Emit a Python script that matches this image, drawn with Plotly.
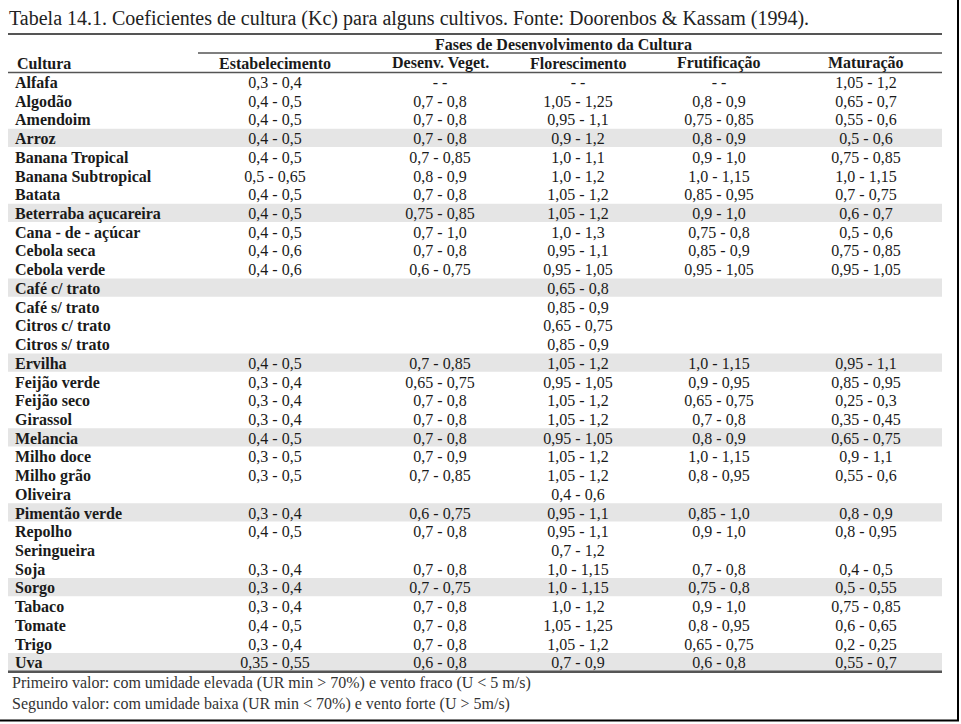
import plotly.graph_objects as go

title = "Tabela 14.1. Coeficientes de cultura (Kc) para alguns cultivos. Fonte: Doorenbos & Kassam (1994)."
group_header = "Fases de Desenvolvimento da Cultura"
col_headers = ["Cultura", "Estabelecimento", "Desenv. Veget.", "Florescimento", "Frutificação", "Maturação"]

cultura = ["Alfafa", "Algodão", "Amendoim", "Arroz", "Banana Tropical", "Banana Subtropical",
           "Batata", "Beterraba açucareira", "Cana - de - açúcar", "Cebola seca", "Cebola verde",
           "Café c/ trato", "Café s/ trato", "Citros c/ trato", "Citros s/ trato", "Ervilha",
           "Feijão verde", "Feijão seco", "Girassol", "Melancia", "Milho doce", "Milho grão",
           "Oliveira", "Pimentão verde", "Repolho", "Seringueira", "Soja", "Sorgo", "Tabaco",
           "Tomate", "Trigo", "Uva"]
estabelecimento = ["0,3 - 0,4", "0,4 - 0,5", "0,4 - 0,5", "0,4 - 0,5", "0,4 - 0,5", "0,5 - 0,65",
                   "0,4 - 0,5", "0,4 - 0,5", "0,4 - 0,5", "0,4 - 0,6", "0,4 - 0,6",
                   "", "", "", "", "0,4 - 0,5",
                   "0,3 - 0,4", "0,3 - 0,4", "0,3 - 0,4", "0,4 - 0,5", "0,3 - 0,5", "0,3 - 0,5",
                   "", "0,3 - 0,4", "0,4 - 0,5", "", "0,3 - 0,4", "0,3 - 0,4", "0,3 - 0,4",
                   "0,4 - 0,5", "0,3 - 0,4", "0,35 - 0,55"]
desenv_veget = ["- -", "0,7 - 0,8", "0,7 - 0,8", "0,7 - 0,8", "0,7 - 0,85", "0,8 - 0,9",
                "0,7 - 0,8", "0,75 - 0,85", "0,7 - 1,0", "0,7 - 0,8", "0,6 - 0,75",
                "", "", "", "", "0,7 - 0,85",
                "0,65 - 0,75", "0,7 - 0,8", "0,7 - 0,8", "0,7 - 0,8", "0,7 - 0,9", "0,7 - 0,85",
                "", "0,6 - 0,75", "0,7 - 0,8", "", "0,7 - 0,8", "0,7 - 0,75", "0,7 - 0,8",
                "0,7 - 0,8", "0,7 - 0,8", "0,6 - 0,8"]
florescimento = ["- -", "1,05 - 1,25", "0,95 - 1,1", "0,9 - 1,2", "1,0 - 1,1", "1,0 - 1,2",
                 "1,05 - 1,2", "1,05 - 1,2", "1,0 - 1,3", "0,95 - 1,1", "0,95 - 1,05",
                 "0,65 - 0,8", "0,85 - 0,9", "0,65 - 0,75", "0,85 - 0,9", "1,05 - 1,2",
                 "0,95 - 1,05", "1,05 - 1,2", "1,05 - 1,2", "0,95 - 1,05", "1,05 - 1,2", "1,05 - 1,2",
                 "0,4 - 0,6", "0,95 - 1,1", "0,95 - 1,1", "0,7 - 1,2", "1,0 - 1,15", "1,0 - 1,15", "1,0 - 1,2",
                 "1,05 - 1,25", "1,05 - 1,2", "0,7 - 0,9"]
frutificacao = ["- -", "0,8 - 0,9", "0,75 - 0,85", "0,8 - 0,9", "0,9 - 1,0", "1,0 - 1,15",
                "0,85 - 0,95", "0,9 - 1,0", "0,75 - 0,8", "0,85 - 0,9", "0,95 - 1,05",
                "", "", "", "", "1,0 - 1,15",
                "0,9 - 0,95", "0,65 - 0,75", "0,7 - 0,8", "0,8 - 0,9", "1,0 - 1,15", "0,8 - 0,95",
                "", "0,85 - 1,0", "0,9 - 1,0", "", "0,7 - 0,8", "0,75 - 0,8", "0,9 - 1,0",
                "0,8 - 0,95", "0,65 - 0,75", "0,6 - 0,8"]
maturacao = ["1,05 - 1,2", "0,65 - 0,7", "0,55 - 0,6", "0,5 - 0,6", "0,75 - 0,85", "1,0 - 1,15",
             "0,7 - 0,75", "0,6 - 0,7", "0,5 - 0,6", "0,75 - 0,85", "0,95 - 1,05",
             "", "", "", "", "0,95 - 1,1",
             "0,85 - 0,95", "0,25 - 0,3", "0,35 - 0,45", "0,65 - 0,75", "0,9 - 1,1", "0,55 - 0,6",
             "", "0,8 - 0,9", "0,8 - 0,95", "", "0,4 - 0,5", "0,5 - 0,55", "0,75 - 0,85",
             "0,6 - 0,65", "0,2 - 0,25", "0,55 - 0,7"]
shaded_rows = ["Arroz", "Beterraba açucareira", "Café c/ trato", "Ervilha", "Melancia",
               "Pimentão verde", "Sorgo", "Uva"]
footnotes = ["Primeiro valor: com umidade elevada (UR min > 70%) e vento fraco (U < 5 m/s)",
             "Segundo valor: com umidade baixa (UR min < 70%) e vento forte (U > 5m/s)"]

W, H = 961, 724
Y0, DY = 84.0, 18.72
TL, TR = 8, 942
col_x = [15, 275, 440, 578, 719, 866]
FONT = "Liberation Serif"
FS = 16
TXT = "#1a1a1a"
LINE = "#555555"

def row_y(i):
    return Y0 + i * DY

n = len(cultura)
ys = [row_y(i) for i in range(n)]

fig = go.Figure()

fig.add_trace(go.Scatter(
    x=[col_x[0]] * n, y=ys, mode="text",
    text=["<b>%s</b>" % c for c in cultura], textposition="middle right",
    textfont=dict(family=FONT, size=FS, color=TXT), hoverinfo="skip", showlegend=False))

for cx, vals in zip(col_x[1:], [estabelecimento, desenv_veget, florescimento, frutificacao, maturacao]):
    fig.add_trace(go.Scatter(
        x=[cx] * n, y=ys, mode="text", text=vals, textposition="middle center",
        textfont=dict(family=FONT, size=FS, color=TXT), hoverinfo="skip", showlegend=False))

shapes = []
for i, c in enumerate(cultura):
    if c in shaded_rows:
        shapes.append(dict(type="rect", xref="x", yref="y", x0=TL, x1=TR,
                           y0=row_y(i) - 2 - DY / 2, y1=row_y(i) - 2 + DY / 2 - 0.5,
                           fillcolor="#e5e5e5", line=dict(width=0), layer="below"))

def hline(y, x0, x1, w=1.5, color=LINE):
    shapes.append(dict(type="line", xref="x", yref="y", x0=x0, x1=x1, y0=y, y1=y,
                       line=dict(color=color, width=w)))

hline(34, TL, TR, 1.8)
hline(53, 198, TR, 1.5)
hline(72.5, TL, TR, 1.5)
hline(row_y(n - 1) - 2 + DY / 2, TL, TR, 2.5)
# outer frame (right and bottom)
shapes.append(dict(type="line", xref="x", yref="y", x0=958, x1=958, y0=0, y1=720.5,
                   line=dict(color="black", width=2)))
shapes.append(dict(type="line", xref="x", yref="y", x0=0, x1=959, y0=720.5, y1=720.5,
                   line=dict(color="black", width=2)))

annotations = [
    dict(x=7, y=18, xref="x", yref="y", text=title, showarrow=False, xanchor="left",
         yanchor="middle", font=dict(family=FONT, size=20, color="#222")),
    dict(x=563, y=44, xref="x", yref="y", text="<b>%s</b>" % group_header, showarrow=False,
         xanchor="center", yanchor="middle", font=dict(family=FONT, size=FS, color=TXT)),
    dict(x=col_x[0], y=63, xref="x", yref="y", text="<b>%s</b>" % col_headers[0], showarrow=False,
         xanchor="left", yanchor="middle", font=dict(family=FONT, size=FS, color=TXT)),
]
for cx, h in zip(col_x[1:], col_headers[1:]):
    annotations.append(dict(x=cx, y=63, xref="x", yref="y", text="<b>%s</b>" % h, showarrow=False,
                            xanchor="center", yanchor="middle",
                            font=dict(family=FONT, size=FS, color=TXT)))
for k, fn in enumerate(footnotes):
    annotations.append(dict(x=10, y=683 + k * 21, xref="x", yref="y", text=fn, showarrow=False,
                            xanchor="left", yanchor="middle",
                            font=dict(family=FONT, size=FS, color="#333")))

fig.update_layout(
    width=W, height=H, margin=dict(l=0, r=0, t=0, b=0),
    paper_bgcolor="white", plot_bgcolor="white",
    xaxis=dict(range=[0, W], visible=False, fixedrange=True),
    yaxis=dict(range=[H, 0], visible=False, fixedrange=True),
    shapes=shapes, annotations=annotations, showlegend=False,
)

# remove the default 8px page margin so the figure fills the window exactly
fig.write_html("out.html", config={"displayModeBar": False},
               post_script="document.body.style.margin='0';document.body.style.overflow='hidden';")
